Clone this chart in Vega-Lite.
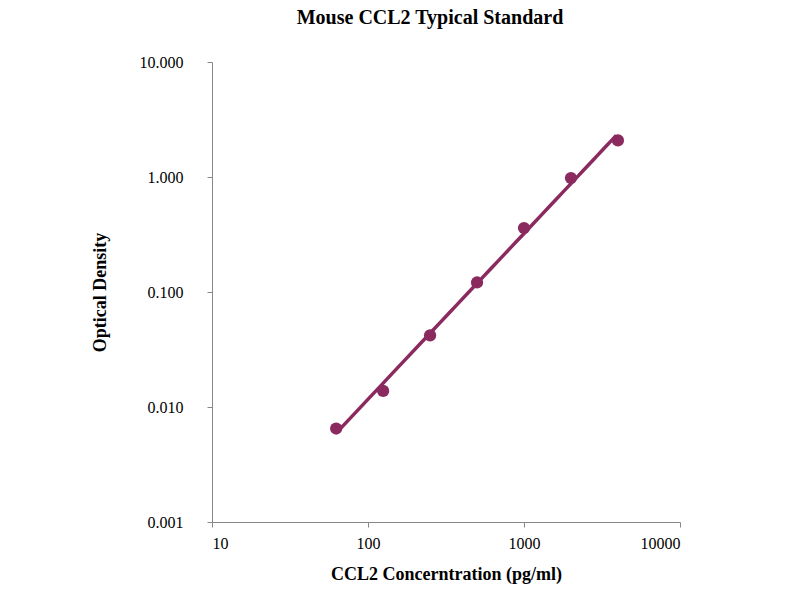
{
  "$schema": "https://vega.github.io/schema/vega-lite/v6.json",
  "autosize": {"type": "none"},
  "padding": {"left": 212, "top": 62, "right": 120, "bottom": 78},
  "width": 468,
  "height": 460,
  "background": "white",
  "title": {"text": "Mouse CCL2 Typical Standard", "font": "Liberation Serif", "fontSize": 20, "fontWeight": "bold", "offset": 26, "anchor": "middle", "dx": -16},
  "config": {"view": {"stroke": null}},
  "data": {"values": [
    {"conc": 62.5, "od": 0.0065},
    {"conc": 125, "od": 0.0138},
    {"conc": 250, "od": 0.042},
    {"conc": 500, "od": 0.121},
    {"conc": 1000, "od": 0.36},
    {"conc": 2000, "od": 0.98},
    {"conc": 4000, "od": 2.08}
  ]},
  "encoding": {
    "x": {"field": "conc", "type": "quantitative",
      "scale": {"type": "log", "domain": [10, 10000], "nice": false},
      "axis": {"title": "CCL2 Concerntration (pg/ml)", "values": [10, 100, 1000, 10000], "format": "d", "grid": false,
        "labelFont": "Liberation Serif", "labelFontSize": 16, "labelColor": "black", "titleFont": "Liberation Serif", "titleFontSize": 18, "titleColor": "black", "titlePadding": 14, "labelPadding": 8, "domainColor": "#888", "tickColor": "#888", "tickSize": 5}},
    "y": {"field": "od", "type": "quantitative",
      "scale": {"type": "log", "domain": [0.001, 10], "nice": false},
      "axis": {"title": "Optical Density", "values": [0.001, 0.01, 0.1, 1, 10], "format": ".3f", "grid": false,
        "labelFont": "Liberation Serif", "labelFontSize": 16, "labelColor": "black", "titleFont": "Liberation Serif", "titleFontSize": 18, "titleColor": "black", "titlePadding": 30, "labelPadding": 24, "domainColor": "#888", "tickColor": "#888", "tickSize": 5}}
  },
  "layer": [
    {"mark": {"type": "circle", "size": 150, "color": "#8b2a5f", "opacity": 1}},
    {"transform": [{"regression": "od", "on": "conc", "method": "pow", "extent": [62.5, 3900]}],
     "mark": {"type": "line", "color": "#8b2a5f", "strokeWidth": 3.5}}
  ]
}
